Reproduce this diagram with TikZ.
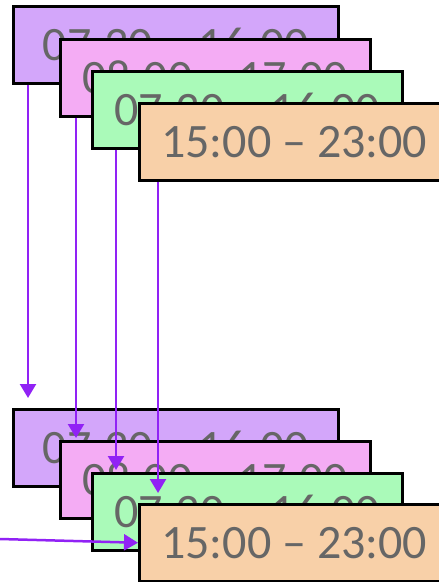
\documentclass[tikz,border=0pt]{standalone}
\usepackage{fontspec}
\setmainfont{Carlito}
\usetikzlibrary{arrows.meta}

\begin{document}
\begin{tikzpicture}[x=1pt,y=-1pt,
  shiftbox/.style={draw=black,line width=2.5pt,minimum height=77pt,inner sep=0pt,
    anchor=north west,text=timegray,font=\fontsize{48}{50}\selectfont},
  link/.style={draw=linkviolet,line width=2.5pt,-{Triangle[length=14pt,width=16pt]}}]
% Define shift colours
\definecolor{early}{RGB}{211,166,250}
\definecolor{day}{RGB}{244,172,244}
\definecolor{mid}{RGB}{170,250,185}
\definecolor{late}{RGB}{248,208,168}
\definecolor{timegray}{RGB}{102,102,102}
\definecolor{linkviolet}{RGB}{145,34,245}

\useasboundingbox (0,0) rectangle (439,582);

% Draw top shifts
\node[shiftbox,fill=early,minimum width=325pt] (t1) at (12,5) {07:30 -- 16:00};
\node[shiftbox,fill=day,minimum width=310pt] (t2) at (59,38) {08:00 -- 17:00};
\node[shiftbox,fill=mid,minimum width=310pt] (t3) at (91,70) {07:30 -- 16:00};
\node[shiftbox,fill=late,minimum width=310pt] (t4) at (138,102) {15:00 -- 23:00};

% Draw bottom shifts
\node[shiftbox,fill=early,minimum width=325pt] (b1) at (12,408) {07:30 -- 16:00};
\node[shiftbox,fill=day,minimum width=310pt] (b2) at (59,440) {08:00 -- 17:00};
\node[shiftbox,fill=mid,minimum width=310pt] (b3) at (91,472) {07:30 -- 16:00};
\node[shiftbox,fill=late,minimum width=310pt] (b4) at (138,503) {15:00 -- 23:00};

% Add arrow ends
\coordinate (e1) at (28,398);
\coordinate (e2) at (76,438);
\coordinate (e3) at (116,470);
\coordinate (e4) at (158,493);
\coordinate (s5) at (0,539);

% Draw arrows
\draw[link] (t1.south -| e1) -- (e1);
\draw[link] (t2.south -| e2) -- (e2);
\draw[link] (t3.south -| e3) -- (e3);
\draw[link] (t4.south -| e4) -- (e4);
\draw[link] (s5) -- (b4.west);
\end{tikzpicture}
\end{document}
